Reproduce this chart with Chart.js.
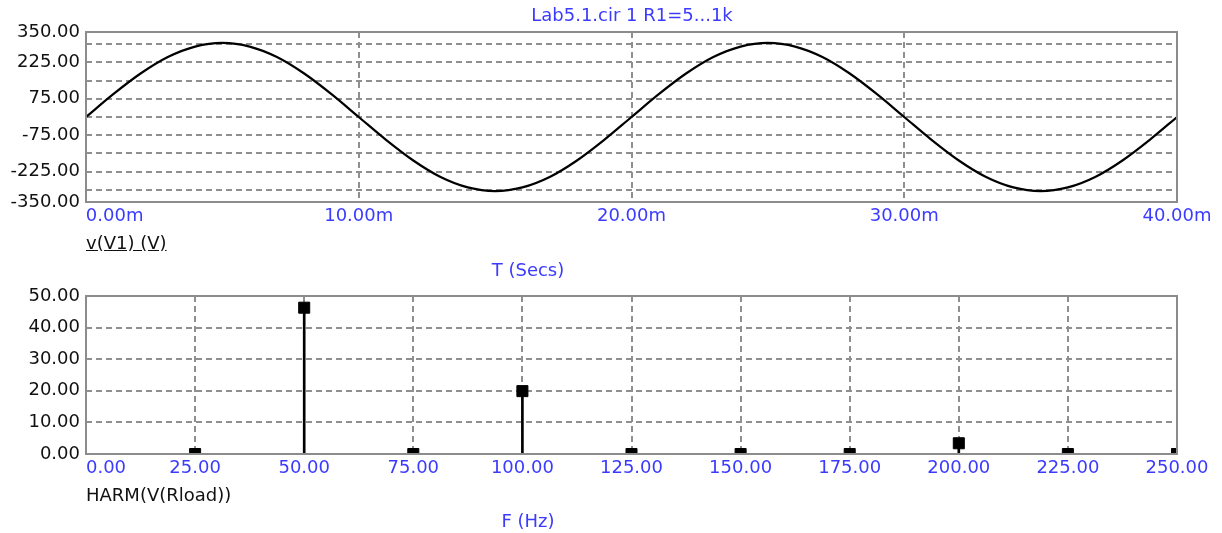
<!DOCTYPE html>
<html>
<head>
<meta charset="utf-8">
<script src="https://cdn.jsdelivr.net/npm/chart.js@4/dist/chart.umd.min.js"></script>
<style>
  body { margin: 0; background: #fff; }
  #wrap { position: relative; width: 1222px; height: 533px; overflow: hidden; font-family: 'DejaVu Sans', sans-serif; }
  canvas { position: absolute; left: 0; }
  .lbl { position: absolute; font-size: 18px; line-height: 20px; white-space: nowrap; }
  .blue { color: #3b3bff; }
  .dark { color: #111; }
  .mid { transform: translate(-50%, -50%); }
  .lft { transform: translate(0, -50%); }
</style>
</head>
<body>
<div id="wrap">
  <canvas id="top" width="1222" height="260" style="top:0"></canvas>
  <canvas id="bot" width="1222" height="263" style="top:270px"></canvas>
  <div class="lbl blue mid" style="left:632px;top:15px">Lab5.1.cir 1 R1=5...1k</div>
  <div class="lbl dark lft" style="left:86px;top:243px;text-decoration:underline">v(V1) (V)</div>
  <div class="lbl blue mid" style="left:528px;top:270px">T (Secs)</div>
  <div class="lbl dark lft" style="left:86px;top:495px">HARM(V(Rload))</div>
  <div class="lbl blue mid" style="left:528px;top:521px">F (Hz)</div>
</div>
<script>
// transient: v(V1), time in ms
const timeMs = [0, 1, 2, 3, 4, 5, 6, 7, 8, 9, 10, 11, 12, 13, 14, 15, 16, 17, 18, 19, 20,
  21, 22, 23, 24, 25, 26, 27, 28, 29, 30, 31, 32, 33, 34, 35, 36, 37, 38, 39, 40];
const voltage = [0, 94, 179, 247, 290, 305, 290, 247, 179, 94, 0, -94, -179, -247, -290, -305, -290, -247, -179, -94, 0,
  94, 179, 247, 290, 305, 290, 247, 179, 94, 0, -94, -179, -247, -290, -305, -290, -247, -179, -94, 0];
const topYTicks = [-350, -300, -225, -150, -75, 0, 75, 150, 225, 300, 350];
const topYLabeled = [-350, -225, -75, 75, 225, 350];

// harmonics of V(Rload)
const harmFreq = [25, 50, 75, 100, 125, 150, 175, 200, 225, 250];
const harmMag = [0, 46.3, 0, 19.9, 0, 0, 0, 3.4, 0, 0];
const freqTicks = [0, 25, 50, 75, 100, 125, 150, 175, 200, 225, 250];

const gridCol = '#8f8f8f';
const tickFont = { family: 'DejaVu Sans', size: 18 };
const pad0 = '          ';

const frame = {
  id: 'frame',
  afterDraw(chart) {
    const a = chart.chartArea, c = chart.ctx;
    c.save();
    c.strokeStyle = '#8c8c8c';
    c.lineWidth = 2;
    c.strokeRect(a.left, a.top, a.right - a.left, a.bottom - a.top);
    c.restore();
  }
};

const edgeless = (lo, hi) => (ctx) => {
  const v = ctx.tick ? ctx.tick.value : null;
  return (v === lo || v === hi) ? 'rgba(0,0,0,0)' : gridCol;
};

new Chart(document.getElementById('top'), {
  type: 'line',
  data: {
    datasets: [{
      data: timeMs.map((t, i) => ({ x: t, y: voltage[i] })),
      borderColor: '#000',
      borderWidth: 2.2,
      pointRadius: 0,
      cubicInterpolationMode: 'monotone'
    }]
  },
  options: {
    responsive: false,
    animation: false,
    events: [],
    layout: { padding: { top: 32, right: 45, left: 0, bottom: 0 } },
    plugins: { legend: { display: false }, tooltip: { enabled: false } },
    scales: {
      x: {
        type: 'linear', min: 0, max: 40,
        afterFit: s => { s.height = 58; },
        grid: { color: edgeless(0, 40), lineWidth: 2, drawTicks: false },
        border: { display: false, dash: [6, 4] },
        ticks: {
          stepSize: 10, autoSkip: false, maxRotation: 0, padding: 4,
          color: '#3b3bff', font: tickFont,
          callback: v => (v === 0 ? pad0 : '') + v.toFixed(2) + 'm'
        }
      },
      y: {
        min: -350, max: 350,
        afterFit: s => { s.width = 86; },
        afterBuildTicks: s => { s.ticks = topYTicks.map(v => ({ value: v })); },
        grid: { color: edgeless(-350, 350), lineWidth: 2, drawTicks: false },
        border: { display: false, dash: [6, 4] },
        ticks: {
          autoSkip: false, padding: 6, color: '#111', font: tickFont,
          callback: v => topYLabeled.includes(v) ? v.toFixed(2) : ''
        }
      }
    }
  },
  plugins: [frame]
});

new Chart(document.getElementById('bot'), {
  type: 'bar',
  data: {
    datasets: [{
      type: 'line',
      data: harmFreq.map((f, i) => ({ x: f, y: harmMag[i] })),
      showLine: false,
      pointStyle: 'rect',
      pointRadius: 7.8,
      pointBorderWidth: 1,
      pointBackgroundColor: '#000',
      pointBorderColor: '#000'
    }, {
      type: 'bar',
      data: harmFreq.map((f, i) => ({ x: f, y: harmMag[i] })),
      backgroundColor: '#000',
      barThickness: 2,
      grouped: false
    }]
  },
  options: {
    responsive: false,
    animation: false,
    events: [],
    layout: { padding: { top: 26, right: 45, left: 0, bottom: 0 } },
    plugins: { legend: { display: false }, tooltip: { enabled: false } },
    scales: {
      x: {
        type: 'linear', min: 0, max: 250, offset: false,
        afterFit: s => { s.height = 79; },
        afterBuildTicks: s => { s.ticks = freqTicks.map(v => ({ value: v })); },
        grid: { color: edgeless(0, 250), lineWidth: 2, drawTicks: false, offset: false },
        border: { display: false, dash: [6, 4] },
        ticks: {
          autoSkip: false, maxRotation: 0, padding: 4,
          color: '#3b3bff', font: tickFont,
          callback: v => (v === 0 ? pad0.slice(3) : '') + v.toFixed(2)
        }
      },
      y: {
        min: 0, max: 50,
        afterFit: s => { s.width = 86; },
        grid: { color: edgeless(0, 50), lineWidth: 2, drawTicks: false },
        border: { display: false, dash: [6, 4] },
        ticks: {
          stepSize: 10, autoSkip: false, padding: 6, color: '#111', font: tickFont,
          callback: v => v.toFixed(2)
        }
      }
    }
  },
  plugins: [frame]
});
</script>
</body>
</html>
